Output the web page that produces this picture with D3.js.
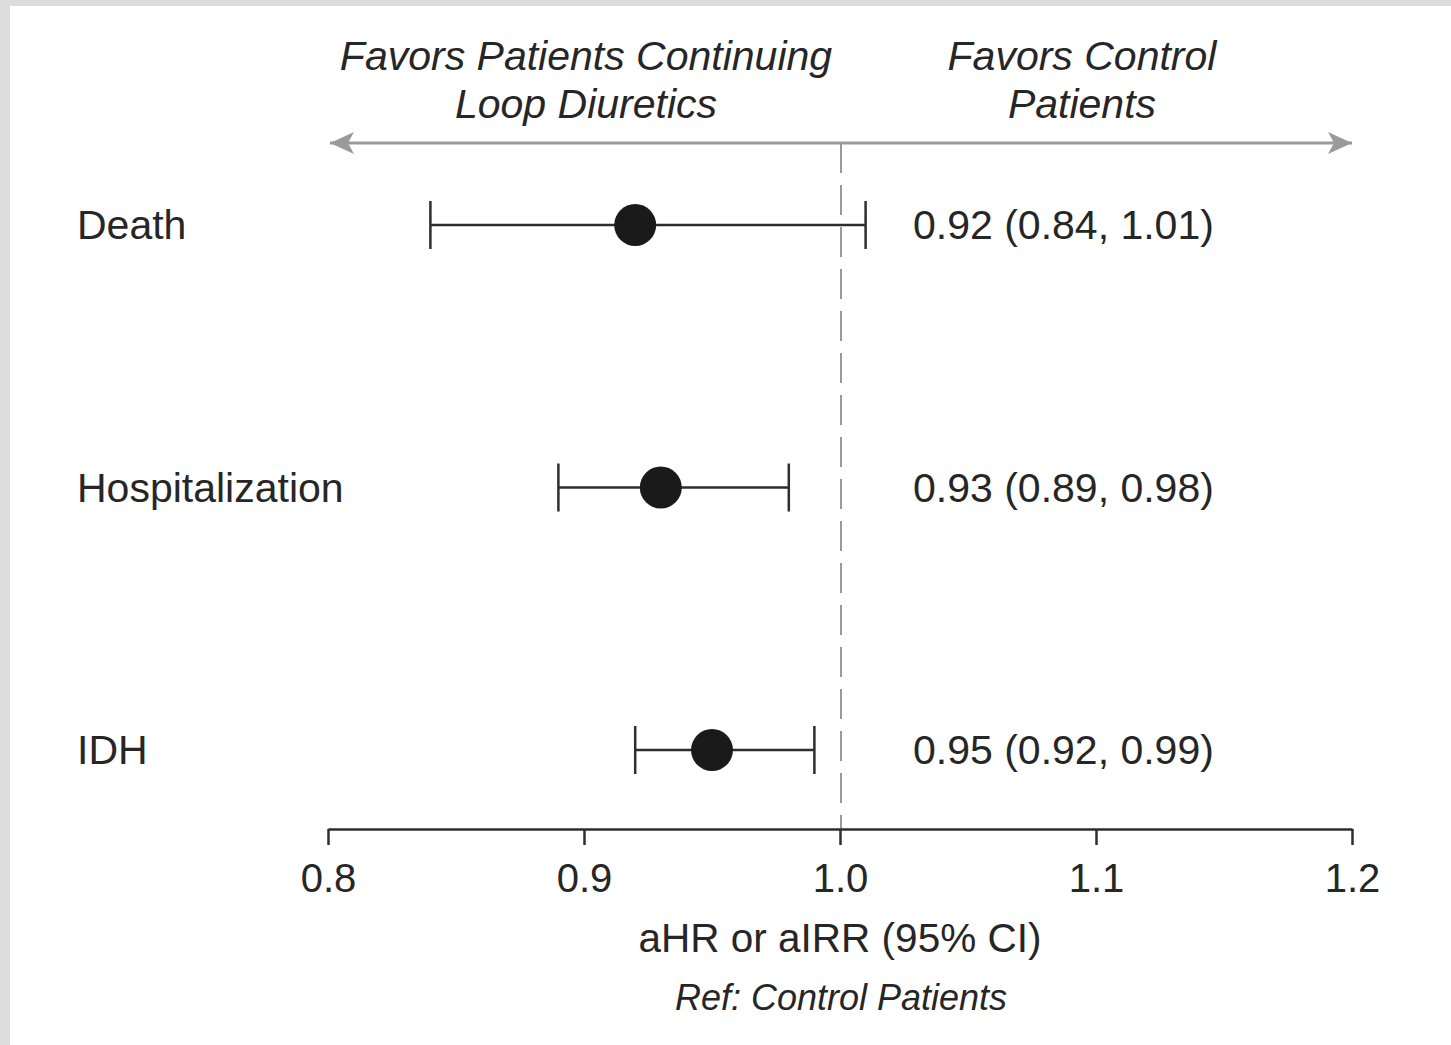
<!DOCTYPE html>
<html>
<head>
<meta charset="utf-8">
<script src="https://cdn.jsdelivr.net/npm/d3@7"></script>
<style>
  html, body { margin: 0; padding: 0; background: #dcdcdc; }
  svg { display: block; }
  text { font-family: "Liberation Sans", Arial, Helvetica, sans-serif; fill: #262626; }
</style>
</head>
<body>
<svg id="chart" width="1451" height="1045"></svg>
<script>
// Outcomes and their adjusted estimates (aHR / aIRR with 95% CI)
const outcomes = ["Death", "Hospitalization", "IDH"];
const estimates = [0.92, 0.93, 0.95];
const lowerCI = [0.84, 0.89, 0.92];
const upperCI = [1.01, 0.98, 0.99];
const tickValues = [0.8, 0.9, 1.0, 1.1, 1.2];

const leftHeader = ["Favors Patients Continuing", "Loop Diuretics"];
const rightHeader = ["Favors Control", "Patients"];
const axisTitle = "aHR or aIRR (95% CI)";
const refNote = "Ref: Control Patients";

const svg = d3.select("#chart");

// white panel inside the grey frame
svg.append("rect")
  .attr("x", 10).attr("y", 6)
  .attr("width", 1451 - 10).attr("height", 1045 - 6)
  .attr("fill", "#ffffff");

const x = d3.scaleLinear().domain([0.8, 1.2]).range([328, 1352]);
const y = d3.scalePoint().domain(outcomes).range([225, 750]).padding(0);

const axisY = 829;
const arrowY = 143;
const ink = "#2e2e2e";
const grey = "#9a9a9a";

// arrowheads for the direction line
const defs = svg.append("defs");
defs.append("marker")
  .attr("id", "arrow")
  .attr("viewBox", "0 0 26 22")
  .attr("refX", 24)
  .attr("refY", 11)
  .attr("markerWidth", 26)
  .attr("markerHeight", 22)
  .attr("markerUnits", "userSpaceOnUse")
  .attr("orient", "auto-start-reverse")
  .append("path")
  .attr("d", "M24,11 L0,0 L6,11 L0,22 Z")
  .attr("fill", grey);

// direction line across the top
svg.append("line")
  .attr("x1", 330).attr("x2", 1352)
  .attr("y1", arrowY).attr("y2", arrowY)
  .attr("stroke", grey).attr("stroke-width", 3)
  .attr("marker-start", "url(#arrow)")
  .attr("marker-end", "url(#arrow)");

// null-effect reference line at 1.0
svg.append("line")
  .attr("x1", x(1.0) + 1).attr("x2", x(1.0) + 1)
  .attr("y1", arrowY).attr("y2", axisY)
  .attr("stroke", grey).attr("stroke-width", 2)
  .attr("stroke-dasharray", "30,12");

// direction headers
function header(lines, cx) {
  const t = svg.append("text")
    .attr("text-anchor", "middle")
    .attr("font-style", "italic")
    .attr("font-size", 41);
  lines.forEach((s, i) => {
    t.append("tspan").attr("x", cx).attr("y", 70 + i * 48).text(s);
  });
}
header(leftHeader, 586);
header(rightHeader, 1082);

// x axis
const axis = svg.append("g")
  .attr("transform", `translate(0,${axisY})`)
  .call(d3.axisBottom(x)
    .tickValues(tickValues)
    .tickFormat(d3.format(".1f"))
    .tickSize(16)
    .tickSizeOuter(0));
axis.select(".domain").attr("stroke", ink).attr("stroke-width", 2.5);
axis.selectAll(".tick line").attr("stroke", ink).attr("stroke-width", 2.5);
axis.selectAll(".tick text")
  .attr("y", 63).attr("dy", 0)
  .attr("font-size", 40)
  .attr("font-family", "Liberation Sans, Arial, sans-serif")
  .attr("fill", "#262626");

svg.append("text")
  .attr("x", 840).attr("y", 952)
  .attr("text-anchor", "middle")
  .attr("font-size", 40.5)
  .text(axisTitle);

svg.append("text")
  .attr("x", 841).attr("y", 1010)
  .attr("text-anchor", "middle")
  .attr("font-style", "italic")
  .attr("font-size", 36)
  .text(refNote);

// one row per outcome
const rows = outcomes.map((name, i) => ({
  name, est: estimates[i], lo: lowerCI[i], hi: upperCI[i]
}));

const g = svg.append("g").selectAll("g.row").data(rows).join("g")
  .attr("class", "row")
  .attr("transform", d => `translate(0,${y(d.name)})`);

g.append("text")
  .attr("x", 77).attr("y", 14)
  .attr("font-size", 41)
  .text(d => d.name);

g.append("line")
  .attr("x1", d => x(d.lo)).attr("x2", d => x(d.hi))
  .attr("y1", 0).attr("y2", 0)
  .attr("stroke", ink).attr("stroke-width", 2.5);

g.selectAll("line.cap").data(d => [d.lo, d.hi]).join("line")
  .attr("class", "cap")
  .attr("x1", v => x(v)).attr("x2", v => x(v))
  .attr("y1", -24).attr("y2", 24)
  .attr("stroke", ink).attr("stroke-width", 2.5);

g.append("circle")
  .attr("cx", d => x(d.est)).attr("cy", 0)
  .attr("r", 21)
  .attr("fill", "#1a1a1a");

const f = d3.format(".2f");
g.append("text")
  .attr("x", 913).attr("y", 14)
  .attr("font-size", 41)
  .text(d => `${f(d.est)} (${f(d.lo)}, ${f(d.hi)})`);
</script>
</body>
</html>
